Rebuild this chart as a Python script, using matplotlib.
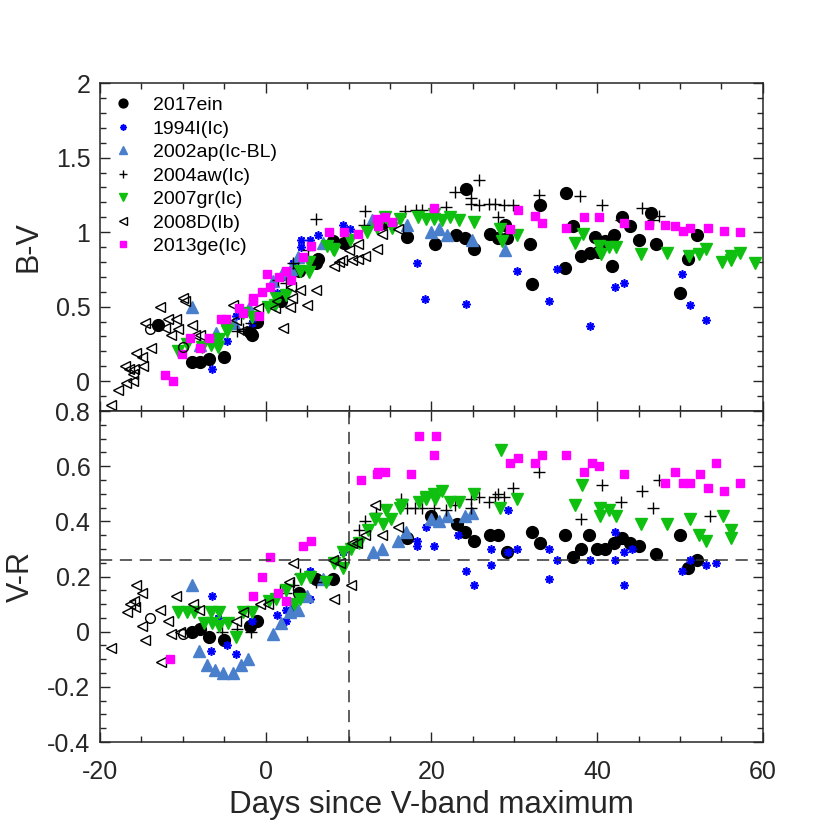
import matplotlib
matplotlib.use("Agg")
import matplotlib.pyplot as plt
from matplotlib.ticker import MultipleLocator

plt.rcParams['font.family'] = ['Liberation Sans', 'DejaVu Sans']
plt.rcParams['axes.unicode_minus'] = False

# ---- B-V (upper panel) ----
ein_bv_d = [-13.0, -8.9, -7.9, -6.9, -5.0, -1.9, -1.6, -1.0, 1.9, 4.0, 6.1, 6.3, 8.1, 9.5, 14.2, 17.0,
            20.4, 23.0, 24.1, 24.2, 25.1, 27.1, 28.1, 28.9, 29.1, 31.9, 32.1, 33.1, 36.2, 36.1, 37.1,
            38.1, 39.1, 39.7, 40.1, 41.0, 41.8, 42.0, 43.0, 44.0, 45.1, 46.5, 47.1, 50.0, 51.0, 52.1]
ein_bv = [0.38, 0.13, 0.13, 0.15, 0.16, 0.33, 0.31, 0.40, 0.54, 0.74, 0.79, 0.82, 0.94, 0.93, 1.06, 0.97,
          0.92, 0.98, 0.96, 1.29, 0.89, 0.99, 0.96, 1.05, 0.96, 0.92, 0.65, 1.18, 1.26, 0.76, 1.04,
          0.84, 0.86, 0.97, 0.87, 0.94, 0.77, 0.98, 1.10, 1.04, 0.95, 1.13, 0.92, 0.59, 0.82, 0.98]
open_bv_d = [-14.0, -10.0]
open_bv = [0.35, 0.23]

sn94_bv_d = [-6.5, -4.7, -3.6, -1.7, 1.4, 3.3, 4.3, 4.3, 5.3, 6.3, 9.3, 10.2, 18.3, 19.2, 24.2, 30.3,
             34.2, 35.2, 39.1, 42.2, 43.2, 50.2, 51.2, 53.2]
sn94_bv = [0.08, 0.27, 0.44, 0.39, 0.59, 0.79, 0.90, 0.95, 0.95, 0.98, 1.05, 1.02, 0.79, 0.55, 0.52, 0.74,
           0.54, 0.75, 0.37, 0.63, 0.66, 0.72, 0.51, 0.41]

ap_bv_d = [-8.9, -7.9, -6.0, -3.8, -2.0, 0.9, 2.0, 3.1, 3.9, 6.9, 12.8, 17.0, 19.9, 20.9, 21.9, 24.9, 28.9]
ap_bv = [0.50, 0.24, 0.32, 0.39, 0.49, 0.67, 0.72, 0.75, 0.83, 0.93, 1.08, 1.05, 1.00, 1.02, 0.98, 0.95, 0.88]

aw_bv_d = [-3.5, -2.7, -1.8, 1.5, 2.5, 3.3, 3.9, 5.1, 6.1, 11.9, 12.0, 16.8, 18.1, 18.9, 21.8, 22.9,
           24.8, 24.8, 25.8, 25.8, 27.0, 27.7, 28.1, 28.8, 29.8, 33.0, 37.9, 40.6, 42.9, 45.4, 46.7, 47.5]
aw_bv = [0.34, 0.35, 0.39, 0.68, 0.66, 0.79, 0.76, 0.88, 1.09, 1.05, 1.14, 1.14, 1.15, 1.15, 1.17, 1.27,
         1.23, 1.19, 1.35, 1.18, 1.19, 1.19, 1.10, 1.18, 1.18, 1.25, 1.24, 1.18, 1.08, 1.16, 1.08, 1.11]

gr_bv_d = [-10.6, -9.5, -7.7, -6.6, -5.7, -5.6, -4.7, -4.8, -2.7, -1.6, 0.3, 1.1, 1.2, 2.5, 4.1, 5.2, 5.2,
           7.4, 8.3, 8.1, 10.2, 12.2, 13.4, 14.4, 15.2, 16.2, 18.4, 19.4, 20.3, 20.3, 21.3, 22.3, 23.3,
           25.2, 28.3, 28.5, 30.3, 37.3, 38.3, 40.2, 40.5, 41.4, 42.3, 45.3, 48.4, 51.1, 52.3, 53.2,
           55.1, 56.2, 56.2, 57.2, 59.1]
gr_bv = [0.20, 0.25, 0.23, 0.24, 0.23, 0.28, 0.34, 0.36, 0.46, 0.43, 0.50, 0.51, 0.56, 0.58, 0.74, 0.80, 0.73,
         0.91, 0.88, 0.89, 0.95, 1.00, 1.03, 1.10, 1.03, 1.09, 1.10, 1.09, 1.12, 1.09, 1.08, 1.10, 1.08,
         1.07, 1.02, 0.94, 0.98, 0.93, 0.99, 0.91, 0.85, 0.90, 0.90, 0.85, 0.86, 0.84, 0.85, 0.89,
         0.80, 0.84, 0.81, 0.86, 0.79]

d08_bv_d = [-18.7, -17.8, -16.9, -17.0, -16.5, -16.0, -16.0, -15.6, -15.9, -14.9, -14.8, -14.6, -13.8,
            -12.8, -12.2, -11.8, -11.4, -10.8, -10.6, -10.0, -9.8, -8.9, -8.5, -7.9, -3.9, -3.6, -2.9,
            -0.9, 1.1, 2.1, 1.4, 2.9, 3.1, 3.2, 4.1, 5.0, 6.1, 8.2, 8.8, 9.2, 10.0, 10.4, 11.2, 11.1,
            12.0, 13.4, 14.0, 16.0]
d08_bv = [-0.16, -0.06, -0.01, 0.10, 0.08, 0.00, 0.05, 0.19, 0.08, 0.16, 0.10, 0.39, 0.22,
          0.50, 0.36, 0.42, 0.31, 0.42, 0.35, 0.56, 0.54, 0.38, 0.31, 0.31, 0.51, 0.41, 0.34,
          0.49, 0.49, 0.36, 0.54, 0.50, 0.63, 0.56, 0.61, 0.51, 0.61, 0.77, 0.80, 0.81, 0.88, 0.81, 0.82, 0.92,
          0.84, 0.89, 0.99, 1.02]

ge_bv_d = [-12.2, -11.2, -10.1, -9.1, -7.9, -6.9, -5.4, -4.8, -3.2, -2.8, -1.5, -1.5, -0.8, -0.5, 0.1, 0.5,
           1.6, 2.5, 3.1, 4.5, 5.5, 7.7, 9.5, 11.2, 13.4, 14.4, 15.2, 13.5, 20.3, 29.5, 30.5, 32.5, 33.4,
           36.3, 38.4, 40.2, 43.3, 46.3, 48.2, 49.4, 50.4, 51.2, 53.4, 55.3, 57.3]
ge_bv = [0.04, 0.00, 0.18, 0.29, 0.22, 0.29, 0.42, 0.42, 0.49, 0.46, 0.56, 0.54, 0.44, 0.60, 0.72, 0.63,
         0.70, 0.74, 0.68, 0.83, 0.91, 1.00, 1.00, 0.99, 1.09, 1.10, 1.07, 1.04, 1.16, 1.02, 1.15, 1.11, 1.06,
         1.03, 1.10, 1.10, 1.06, 1.05, 1.05, 1.04, 1.01, 1.03, 1.03, 1.01, 1.00]

# ---- V-R (lower panel) ----
ein_vr_d = [-8.9, -7.9, -6.9, -5.0, -1.9, -1.0, 4.0, 6.1, 8.1, 17.0, 20.0, 23.1, 24.1, 25.1, 27.1, 28.1,
            29.1, 32.1, 33.1, 36.1, 37.1, 38.1, 39.0, 40.0, 41.0, 42.0, 43.0, 44.0, 45.1, 47.1, 50.0,
            51.0, 52.1]
ein_vr = [0.00, 0.01, -0.02, -0.03, 0.02, 0.04, 0.14, 0.19, 0.19, 0.34, 0.42, 0.39, 0.36, 0.33, 0.35, 0.35,
          0.29, 0.36, 0.32, 0.35, 0.27, 0.30, 0.35, 0.30, 0.30, 0.32, 0.34, 0.32, 0.31, 0.28, 0.35,
          0.23, 0.26]
open_vr_d = [-14.0, -10.0]
open_vr = [0.05, -0.01]

sn94_vr_d = [-6.5, -5.7, -6.6, -4.7, -3.6, -1.7, 1.4, 2.4, 2.4, 3.3, 5.3, 5.3, 9.3, 18.3, 18.3, 19.3, 20.3,
             23.2, 24.2, 25.2, 27.2, 27.2, 29.3, 29.3, 30.3, 34.2, 34.2, 35.2, 39.1, 42.2, 42.2, 43.2,
             43.2, 44.2, 50.3, 51.2, 53.2, 54.4]
sn94_vr = [0.13, 0.05, -0.07, -0.05, -0.08, 0.04, 0.06, 0.04, 0.08, 0.09, 0.22, 0.12, 0.29, 0.33, 0.31, 0.38,
           0.31, 0.35, 0.22, 0.17, 0.30, 0.24, 0.44, 0.29, 0.30, 0.30, 0.19, 0.26, 0.26, 0.36, 0.26, 0.29,
           0.17, 0.30, 0.22, 0.26, 0.24, 0.25]

ap_vr_d = [-8.9, -8.0, -7.1, -6.1, -5.1, -4.0, -3.0, -2.1, 0.9, 1.9, 2.9, 3.9, 5.0, 6.9, 13.0, 14.0, 16.0,
           16.9, 20.0, 20.9, 21.9, 24.0, 24.9]
ap_vr = [0.17, -0.07, -0.12, -0.14, -0.15, -0.15, -0.12, -0.10, -0.01, 0.03, 0.07, 0.08, 0.13, 0.19, 0.29,
         0.30, 0.33, 0.36, 0.41, 0.40, 0.42, 0.42, 0.43]

aw_vr_d = [-5.3, -3.5, -1.8, 1.7, 2.4, 3.3, 4.2, 6.1, 11.3, 12.0, 13.3, 16.3, 17.0, 18.0, 18.9, 20.3, 21.8,
           22.9, 24.8, 24.8, 25.8, 27.0, 27.7, 28.0, 28.8, 29.8, 33.0, 38.0, 40.6, 42.9, 45.4, 46.7,
           47.5, 53.6]
aw_vr = [0.00, 0.01, 0.00, 0.15, 0.14, 0.17, 0.21, 0.18, 0.37, 0.40, 0.43, 0.48, 0.45, 0.45, 0.45, 0.45, 0.44,
         0.46, 0.48, 0.45, 0.49, 0.47, 0.49, 0.50, 0.49, 0.52, 0.58, 0.41, 0.53, 0.47, 0.51, 0.45,
         0.55, 0.42]

gr_vr_d = [-10.6, -9.5, -8.7, -7.5, -6.6, -6.5, -5.6, -5.6, -4.6, -3.6, -2.7, -1.6, 0.4, 1.2, 2.4, 3.4, 4.2,
           4.3, 5.3, 7.3, 8.3, 9.3, 9.3, 10.3, 11.3, 12.3, 13.2, 14.1, 14.5, 15.1, 16.2, 16.4, 18.5,
           19.4, 19.4, 20.3, 20.4, 21.3, 22.3, 23.3, 25.2, 28.4, 28.3, 30.3, 37.3, 38.2, 40.3, 40.3,
           41.4, 42.3, 45.3, 48.4, 51.2, 52.3, 53.2, 55.2, 56.2, 56.2]
gr_vr = [0.07, 0.07, 0.07, 0.03, 0.07, 0.03, 0.07, 0.02, 0.03, -0.02, 0.07, 0.07, 0.11, 0.12, 0.15, 0.10, 0.12,
         0.19, 0.20, 0.18, 0.25, 0.23, 0.29, 0.30, 0.32, 0.37, 0.41, 0.39, 0.44, 0.41, 0.45, 0.46, 0.47,
         0.49, 0.48, 0.50, 0.48, 0.51, 0.47, 0.47, 0.50, 0.66, 0.45, 0.48, 0.46, 0.53, 0.45, 0.42,
         0.44, 0.42, 0.39, 0.39, 0.41, 0.35, 0.33, 0.42, 0.37, 0.34]

d08_vr_d = [-18.7, -16.8, -16.4, -15.9, -15.7, -15.8, -14.9, -14.9, -14.6, -12.8, -11.8, -12.6, -11.4,
            -10.8, -10.4, -8.8, -8.0, -3.6, -2.7, -0.7, 0.3, 2.8, 3.3, 8.3, 8.1, 9.0, 10.3, 10.4, 11.0,
            12.0, 13.2, 14.0, 16.0]
d08_vr = [-0.06, 0.07, 0.10, 0.11, 0.17, 0.09, 0.14, 0.02, -0.03, 0.08, 0.04, -0.11, -0.01,
          0.13, 0.00, 0.10, 0.08, 0.04, 0.07, 0.10, 0.10, 0.18, 0.25, 0.12, 0.26, 0.25, 0.17, 0.32, 0.32,
          0.35, 0.46, 0.35, 0.38]

ge_vr_d = [-11.5, -1.5, -0.5, 0.5, 1.5, 2.5, 4.5, 5.5, 11.5, 13.4, 13.5, 14.4, 17.5, 18.5, 20.3, 20.5, 29.5,
           30.5, 32.5, 33.4, 36.2, 38.4, 39.4, 40.2, 43.3, 48.2, 49.4, 50.4, 51.2, 52.4, 53.4, 54.3,
           55.3, 57.3]
ge_vr = [-0.10, 0.13, 0.20, 0.27, 0.14, 0.11, 0.31, 0.33, 0.55, 0.57, 0.58, 0.58, 0.57, 0.71, 0.64, 0.71, 0.61,
         0.63, 0.61, 0.64, 0.64, 0.58, 0.61, 0.60, 0.57, 0.54, 0.58, 0.54, 0.54, 0.57, 0.52, 0.61,
         0.51, 0.54]

vr_level = 0.26
t_split = 10

series = [
    ("2017ein", ein_bv_d, ein_bv, ein_vr_d, ein_vr, dict(marker='o', color='k', ms=8.5)),
    ("1994I(Ic)", sn94_bv_d, sn94_bv, sn94_vr_d, sn94_vr, dict(marker=(8, 2, 0), color='#0000ff', ms=6, mew=1.2)),
    ("2002ap(Ic-BL)", ap_bv_d, ap_bv, ap_vr_d, ap_vr, dict(marker='^', color='#4a7fcc', ms=8.5)),
    ("2004aw(Ic)", aw_bv_d, aw_bv, aw_vr_d, aw_vr, dict(marker='+', color='k', ms=8, mew=1.0)),
    ("2007gr(Ic)", gr_bv_d, gr_bv, gr_vr_d, gr_vr, dict(marker='v', color='#10c010', ms=8.5)),
    ("2008D(Ib)", d08_bv_d, d08_bv, d08_vr_d, d08_vr, dict(marker='<', color='k', mfc='none', ms=7, mew=1.0)),
    ("2013ge(Ic)", ge_bv_d, ge_bv, ge_vr_d, ge_vr, dict(marker='s', color='#ff00ff', ms=5.5)),
]

fig = plt.figure(figsize=(8.3, 8.24), dpi=100)
ax1 = fig.add_axes([0.1205, 0.5012, 0.7985, 0.398])
ax2 = fig.add_axes([0.1205, 0.0995, 0.7985, 0.4017])

for name, bd, bv, vd, vr, st in series:
    ax1.plot(bd, bv, ls='none', label=name, **st)
    ax2.plot(vd, vr, ls='none', **st)
ax1.plot(open_bv_d, open_bv, ls='none', marker='o', mfc='none', color='k', ms=7)
ax2.plot(open_vr_d, open_vr, ls='none', marker='o', mfc='none', color='k', ms=7)

ax2.axhline(vr_level, color='#333333', ls=(0, (8, 5)), lw=1.1)
ax2.axvline(t_split, color='#333333', ls=(0, (8, 5)), lw=1.1)

for ax in (ax1, ax2):
    ax.set_xlim(-20, 60)
    ax.xaxis.set_major_locator(MultipleLocator(20))
    ax.xaxis.set_minor_locator(MultipleLocator(5))
    ax.tick_params(which='both', direction='in', top=True, right=True, labelsize=18, colors='#262626')
    ax.tick_params(which='major', length=7, width=1)
    ax.tick_params(which='minor', length=4, width=1)
    ax.tick_params(axis='y', pad=7)
    ax.tick_params(axis='x', pad=13)
    for sp in ax.spines.values():
        sp.set_linewidth(1.1)
        sp.set_color('#262626')

ax1.set_ylim(-0.2, 2)
ax1.set_yticks([0, 0.5, 1, 1.5, 2])
ax1.set_yticklabels(['0', '0.5', '1', '1.5', '2'])
ax1.yaxis.set_minor_locator(MultipleLocator(0.1))
ax1.tick_params(labelbottom=False)
ax1.set_ylabel('B-V', fontsize=22, color='#262626', labelpad=9)

ax2.set_ylim(-0.4, 0.8)
ax2.set_yticks([-0.4, -0.2, 0, 0.2, 0.4, 0.6, 0.8])
ax2.set_yticklabels(['-0.4', '-0.2', '0', '0.2', '0.4', '0.6', '0.8'])
ax2.yaxis.set_minor_locator(MultipleLocator(0.05))
ax2.set_xticks([-20, 0, 20, 40, 60])
ax2.set_xticklabels(['-20', '0', '20', '40', '60'])
ax2.set_ylabel('V-R', fontsize=22, color='#262626', labelpad=8)
ax2.set_xlabel('Days since V-band maximum', fontsize=22.5, color='#262626', labelpad=4)

ax1.legend(loc='upper left', frameon=False, fontsize=14, handlelength=1.0, handletextpad=1.0,
           borderaxespad=0.3, labelspacing=0.3, numpoints=1, markerscale=0.75)

fig.savefig('out.png', dpi=100)
